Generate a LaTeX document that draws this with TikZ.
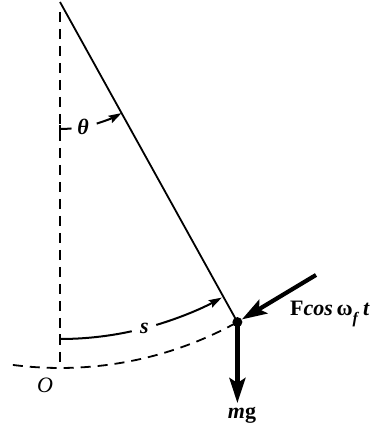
\documentclass[tikz,border=0pt]{standalone}
\usepackage{fontspec}
\setmainfont{Liberation Serif}
\usetikzlibrary{arrows.meta}
\begin{document}
\begin{tikzpicture}[x=1pt,y=1pt,
  lbl/.style={inner sep=0pt, font=\fontsize{22}{25}\selectfont},
  stringline/.style={line width=1.8pt},
  dashline/.style={line width=1.8pt, dash pattern=on 10pt off 7pt},
  measure/.style={line width=2pt},
  arctip/.style={-{Stealth[length=13pt,width=8pt,inset=2pt]}},
  force/.style={line width=4.2pt, -{Stealth[length=25pt,width=16pt,inset=5pt]}},
  bobdot/.style={circle, fill=black, inner sep=0pt, minimum size=10pt}]
\useasboundingbox (0,0) rectangle (371,430);
% pivot and bob
\coordinate (P) at (60,428);
\node[bobdot] (bob) at (237.4,107.9) {};
% vertical dashed reference
\coordinate (vtop) at (60,418);
\coordinate (O) at (60,62);
\draw[dashline] (vtop) -- (O);
% dashed path of the bob
\draw[dashline] ([shift={(262.6:366)}]P) arc[start angle=262.6, end angle=299, radius=366];
% string
\draw[stringline] (P) -- (bob.center);
% theta arc
\node[lbl] (theta) at ([shift={(280.5:127)}]P) {\textbf{\textit{θ}}};
\draw[measure] ([shift={(270:127)}]P) arc[start angle=270, end angle=275.2, radius=127];
\draw[measure, arctip] ([shift={(286.8:127)}]P) arc[start angle=286.8, end angle=299, radius=127];
\draw[measure] (60,297) -- (60,305);
% s arc
\node[lbl] (s) at ([shift={(284.5:337)}]P) {\textbf{\textit{s}}};
\draw[measure] ([shift={(270:337)}]P) arc[start angle=270, end angle=282.3, radius=337];
\draw[measure, arctip] ([shift={(286.6:337)}]P) arc[start angle=286.6, end angle=298.7, radius=337];
\draw[measure] (60,86) -- (60,96);
% forces
\coordinate (Fs) at (316,155);
\coordinate (mgtip) at (237.4,27);
\draw[force] (Fs) -- (bob);
\draw[force] (bob.center) -- (mgtip);
% labels
\node[lbl, anchor=base west] (Flbl) at (290,114) {\textbf{F\textit{cos}\,ω\raisebox{-0.35em}{\fontsize{16}{16}\selectfont\textit{f}}\,\textit{t}}};
\node[lbl, anchor=base] (mg) at (242,12) {\textbf{\textit{m}g}};
\node[lbl, anchor=base] (Olbl) at (45,37) {\textit{O}};
\end{tikzpicture}
\end{document}
